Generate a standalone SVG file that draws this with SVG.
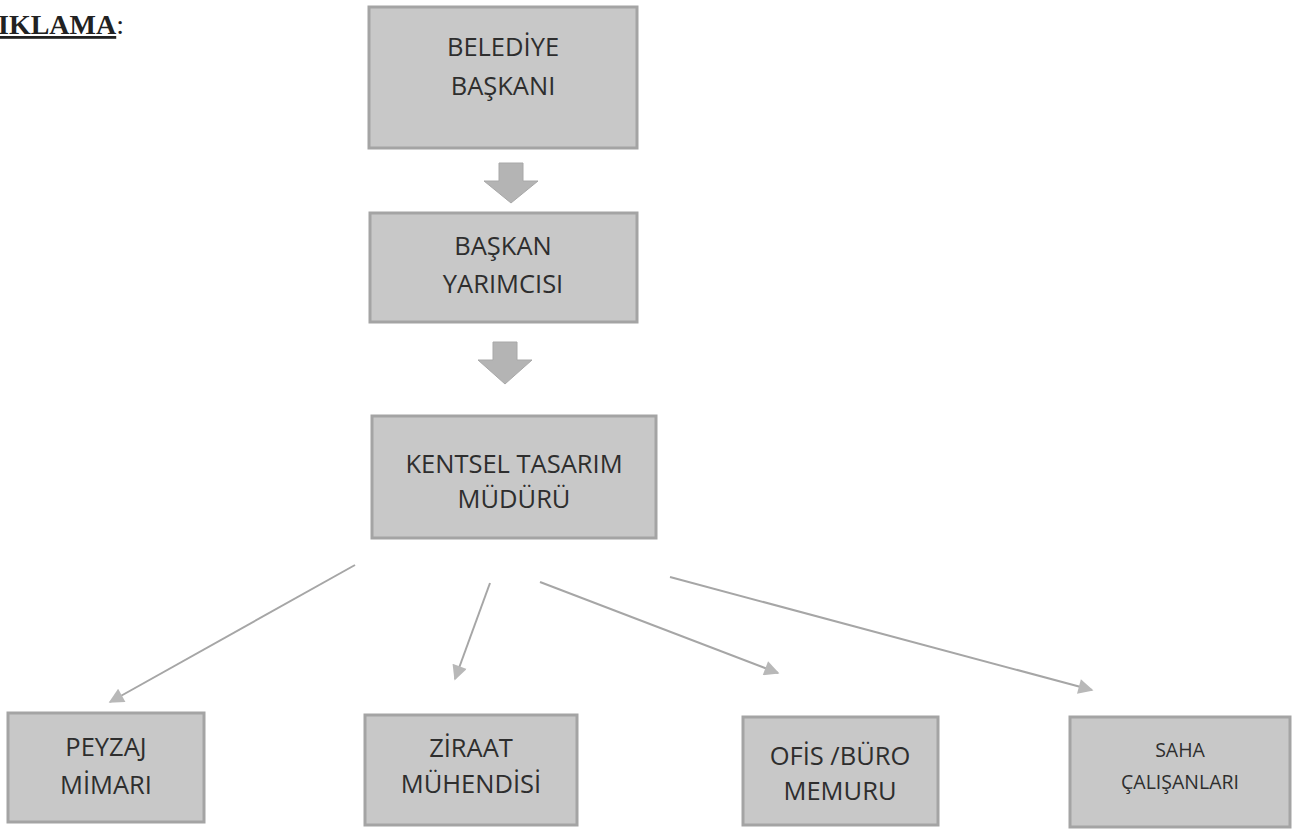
<svg xmlns="http://www.w3.org/2000/svg" width="1297" height="829" viewBox="0 0 1297 829">
<style>
.box{fill:#c8c8c8;stroke:#a4a4a4;stroke-width:3}
.lbl{font-family:"Open Sans","Noto Sans",sans-serif;font-size:25.5px;fill:#2e2e2e;text-anchor:middle}
.sm{font-size:19.5px}
.blk{fill:#b4b4b4;stroke:#a8a8a8;stroke-width:1}
.con{stroke:#a6a6a6;stroke-width:2;fill:none}
.title{font-family:"Liberation Serif",serif;font-size:28px;fill:#222}
</style>
<defs>
<marker id="ah2" viewBox="0 0 10 10" refX="9" refY="5" markerWidth="18" markerHeight="15" markerUnits="userSpaceOnUse" orient="auto">
<path d="M0,0 L10,5 L0,10 Z" fill="#b8b8b8"/>
</marker>
</defs>
<rect width="1297" height="829" fill="#fff"/>
<text class="title" x="-2" y="34"><tspan font-weight="bold" text-decoration="underline">IKLAMA</tspan>:</text>

<g id="connectors">
<path class="blk" d="M499,163 H523 V181 H538 L511,203 L484,181 H499 Z"/>
<path class="blk" d="M493,342 H517 V360 H532 L505,384 L478,360 H493 Z"/>
<line class="con" x1="355" y1="565" x2="110" y2="702" marker-end="url(#ah2)"/>
<line class="con" x1="490" y1="583" x2="455" y2="679" marker-end="url(#ah2)"/>
<line class="con" x1="540" y1="582" x2="778" y2="673" marker-end="url(#ah2)"/>
<line class="con" x1="670" y1="577" x2="1092" y2="690" marker-end="url(#ah2)"/>
</g>

<g id="belediye-baskani">
<rect class="box" x="369" y="7" width="268" height="141"/>
<text class="lbl" x="503" y="56">BELEDİYE</text>
<text class="lbl" x="503" y="95">BAŞKANI</text>
</g>
<g id="baskan-yardimcisi">
<rect class="box" x="370" y="213" width="267" height="109"/>
<text class="lbl" x="503" y="255">BAŞKAN</text>
<text class="lbl" x="503" y="293">YARIMCISI</text>
</g>
<g id="kentsel-tasarim-muduru">
<rect class="box" x="372" y="416" width="284" height="122"/>
<text class="lbl" x="514" y="473">KENTSEL TASARIM</text>
<text class="lbl" x="514" y="508">MÜDÜRÜ</text>
</g>
<g id="peyzaj-mimari">
<rect class="box" x="8" y="713" width="196" height="109"/>
<text class="lbl" x="106" y="756">PEYZAJ</text>
<text class="lbl" x="106" y="794">MİMARI</text>
</g>
<g id="ziraat-muhendisi">
<rect class="box" x="365" y="715" width="212" height="110"/>
<text class="lbl" x="471" y="757">ZİRAAT</text>
<text class="lbl" x="471" y="793">MÜHENDİSİ</text>
</g>
<g id="ofis-buro-memuru">
<rect class="box" x="743" y="717" width="195" height="108"/>
<text class="lbl" x="840" y="765">OFİS /BÜRO</text>
<text class="lbl" x="840" y="800">MEMURU</text>
</g>
<g id="saha-calisanlari">
<rect class="box" x="1070" y="717" width="220" height="110"/>
<text class="lbl sm" x="1180" y="757">SAHA</text>
<text class="lbl sm" x="1180" y="789">ÇALIŞANLARI</text>
</g>
</svg>
